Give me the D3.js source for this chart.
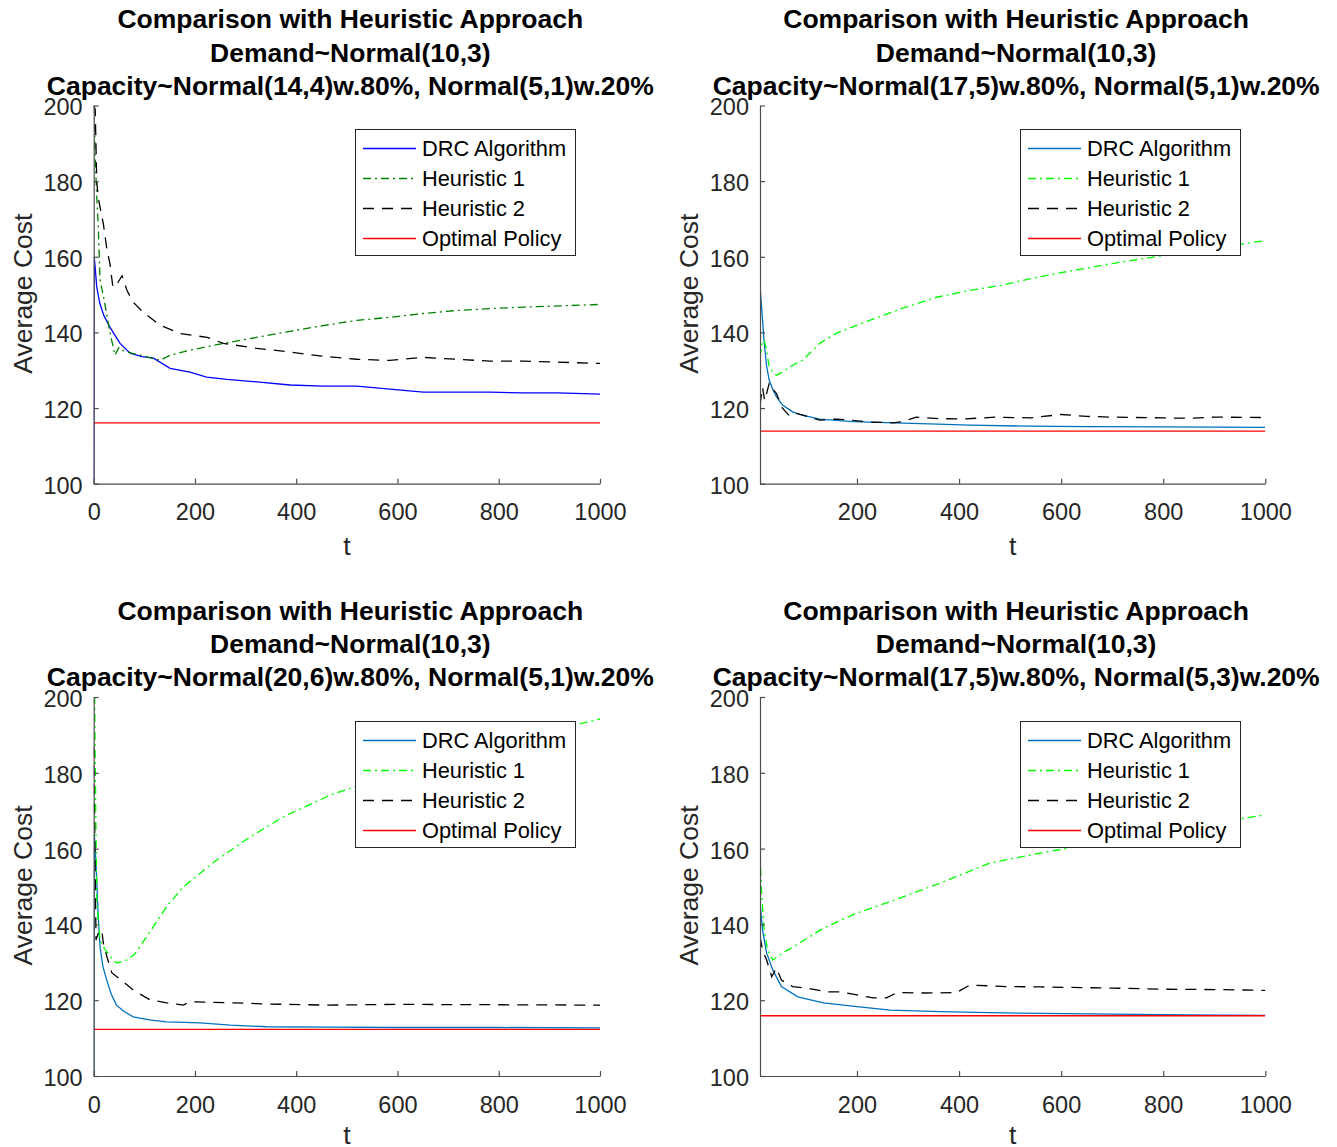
<!DOCTYPE html>
<html lang="en">
<head>
<meta charset="UTF-8">
<title>Comparison with Heuristic Approach</title>
<script src="https://d3js.org/d3.v7.min.js"></script>
<style>
    body { margin: 0; background: #fff; }
    svg { display: block; font-family: "Liberation Sans", Arial, sans-serif; }
</style>
</head>
<body>
<script>

// ---- data: [t, average cost] ----
var yTicks = [100, 120, 140, 160, 180, 200];
var xTicksFull = [0, 200, 400, 600, 800, 1000];
var xTicksShort = [200, 400, 600, 800, 1000];
var seriesNames = ["DRC Algorithm", "Heuristic 1", "Heuristic 2", "Optimal Policy"];

var titleLine1 = "Comparison with Heuristic Approach";
var titleLine2 = "Demand~Normal(10,3)";
var capacityTitles = [
    "Capacity~Normal(14,4)w.80%, Normal(5,1)w.20%",
    "Capacity~Normal(17,5)w.80%, Normal(5,1)w.20%",
    "Capacity~Normal(20,6)w.80%, Normal(5,1)w.20%",
    "Capacity~Normal(17,5)w.80%, Normal(5,3)w.20%"
];

// top left
var tlDrc = [[0,100],[1,160],[3,157],[6,152],[12,147.7],[20,144.5],[32,141.4],[52,137.1],[72,134.5],[95,133.6],[118,133.2],[151,130.5],[190,129.5],[223,128.2],[263,127.6],[322,126.9],[388,126.1],[453,125.8],[520,125.8],[585,125],[651,124.2],[717,124.2],[783,124.2],[849,124],[916,124],[1000,123.7]];
var tlH1 = [[0,200],[1,198],[3,186],[6,176],[9,168],[12.5,154],[20,149],[32,140],[42,134],[50,136],[58,135.2],[75,134.5],[92,134],[131,132.6],[151,134],[190,135.3],[256,137.1],[322,138.7],[388,140.3],[453,141.8],[520,143.2],[585,144],[651,145],[717,145.8],[783,146.3],[849,146.7],[920,147],[1000,147.4]];
var tlH2 = [[0,200],[3,199],[6,180],[9,175.7],[14,172],[19,168.8],[26,162],[32,158.2],[38,151.9],[47,153],[56,155],[66,151],[78,148],[98,145.3],[131,141.9],[171,139.7],[224,138.7],[256,137.1],[322,135.8],[388,134.8],[453,133.7],[520,132.9],[585,132.6],[651,133.4],[717,132.9],[783,132.4],[849,132.4],[1000,131.8]];
var tlOpt = [[0,116.1],[1000,116.1]];

// top right
var trDrc = [[10,152.4],[14,145],[18.4,137],[23,131],[28,127.4],[35,125],[42,123],[54,120.8],[74,119],[93,118.1],[127,117.1],[191,116.4],[290,116],[342,115.8],[421,115.5],[538,115.2],[650,115.1],[800,115],[1000,114.9]];
var trH1 = [[10,133.5],[14,137],[18,137.9],[22,136],[28,130.9],[35,129.5],[42,128.7],[55,129.5],[68,130.9],[94,132.7],[127,137.1],[160,139.8],[225,143.2],[290,146.4],[356,149.3],[421,151.1],[480,152.4],[550,154.5],[600,155.8],[650,157],[700,158.2],[750,159.3],[800,160.3],[850,161.3],[900,162.3],[950,163.3],[1000,164.3]];
var trH2 = [[10,120.8],[15,125.5],[19,122],[23,123.9],[28,126.5],[35,125],[42,123.9],[54,120],[68,117.9],[80,118.6],[94,118.1],[127,116.8],[160,117.1],[225,116.3],[270,116.1],[290,116.4],[316,117.6],[360,117.2],[407,117.1],[473,117.6],[540,117.4],[600,118.3],[650,117.8],[700,117.6],[800,117.4],[850,117.3],[900,117.6],[1000,117.5]];
var trOpt = [[10,113.9],[1000,113.9]];

// bottom left
var blDrc = [[0,100],[1,164],[3,160],[6,151.7],[9,142],[12.5,134.1],[18,129],[25.7,125.3],[35,121.5],[45,118.7],[60,117],[78,115.6],[110,114.8],[144,114.3],[210,114],[270,113.4],[342,113],[467,112.9],[600,112.8],[800,112.8],[1000,112.7]];
var blH1 = [[0,200],[2,200],[4,170],[6,147.3],[9,141],[12.5,135.9],[19,134.1],[32,131.5],[45,129.8],[65,130.6],[80,132],[91,134.1],[118,139.4],[144,144.7],[177,149.9],[243,157],[309,163.1],[375,168.4],[467,174.1],[520,176.5],[600,180],[700,184],[800,187.7],[900,191],[1000,194.2]];
var blH2 = [[0,187],[2,165],[4.6,135.9],[9,137.7],[16,138.5],[19,135.1],[26,131.5],[36,127.2],[58,124.9],[78,122.7],[111,120.1],[144,119.3],[177,118.7],[190,119.6],[276,119.3],[342,119],[461,118.7],[600,118.9],[800,118.8],[1000,118.7]];
var blOpt = [[0,112.3],[1000,112.3]];

// bottom right
var brDrc = [[10,145.6],[15,138.5],[23,132.4],[35,128],[52,123.6],[84,120.9],[134,119.3],[200,118.3],[265,117.4],[363,117],[461,116.7],[559,116.5],[700,116.3],[850,116.1],[1000,116]];
var brH1 = [[10,159.6],[12.5,150],[18,138.5],[25,133.2],[35,130.6],[54,132.4],[88,135.1],[134,139],[200,143],[265,146],[363,150.9],[461,156.2],[559,158.8],[600,159.8],[700,162.3],[800,164.6],[900,166.8],[1000,168.9]];
var brH2 = [[10,136.8],[15,133.2],[23,130.6],[33,126.2],[42,128.5],[52,125.3],[74,123.6],[101,123.2],[140,122.2],[166,122.2],[200,121.4],[232,120.6],[258,120.6],[278,122],[330,121.9],[395,122],[421,124],[493,123.6],[559,123.5],[700,123.2],[800,122.9],[900,122.8],[1000,122.6]];
var brOpt = [[10,115.9],[1000,115.9]];

var width = 1337;
var height = 1147;

var svg = d3.select("body").append("svg")
    .attr("width", width)
    .attr("height", height);

// panel layout
var panels = [
    { left: 93.7, right: 600, top: 105.5, bottom: 483.7, xMin: 0, xTicks: xTicksFull, sub: capacityTitles[0],
      series: [tlDrc, tlH1, tlH2, tlOpt], colors: ["#0000ff", "#008000", "#000000", "#ff0000"] },
    { left: 760, right: 1265.3, top: 105.5, bottom: 483.7, xMin: 10, xTicks: xTicksShort, sub: capacityTitles[1],
      series: [trDrc, trH1, trH2, trOpt], colors: ["#0072bd", "#00ff00", "#000000", "#ff0000"] },
    { left: 93.7, right: 600, top: 697, bottom: 1076, xMin: 0, xTicks: xTicksFull, sub: capacityTitles[2],
      series: [blDrc, blH1, blH2, blOpt], colors: ["#0072bd", "#00ff00", "#000000", "#ff0000"] },
    { left: 760, right: 1265.3, top: 697, bottom: 1076, xMin: 10, xTicks: xTicksShort, sub: capacityTitles[3],
      series: [brDrc, brH1, brH2, brOpt], colors: ["#0072bd", "#00ff00", "#000000", "#ff0000"] }
];

var dashes = ["none", "8,4,2,4", "11,8", "none"];

panels.forEach(function (p, k) {
    var x = d3.scaleLinear().domain([p.xMin, 1000]).range([p.left, p.right]);
    var y = d3.scaleLinear().domain([100, 200]).range([p.bottom, p.top]);

    var g = svg.append("g");

    g.append("clipPath").attr("id", "clip" + k)
        .append("rect")
        .attr("x", p.left).attr("y", p.top)
        .attr("width", p.right - p.left).attr("height", p.bottom - p.top);

    var line = d3.line()
        .x(function (d) { return x(d[0]); })
        .y(function (d) { return y(d[1]); });

    var lines = g.append("g").attr("clip-path", "url(#clip" + k + ")");
    p.series.forEach(function (s, i) {
        lines.append("path")
            .datum(s)
            .attr("d", line)
            .style("fill", "none")
            .style("stroke", p.colors[i])
            .style("stroke-width", 1.3)
            .style("stroke-dasharray", dashes[i]);
    });

    // axes, ticks inward like the original
    var xAxis = g.append("g")
        .attr("transform", "translate(0," + p.bottom + ")")
        .call(d3.axisBottom(x).tickValues(p.xTicks).tickFormat(d3.format("d"))
            .tickSizeInner(-5).tickSizeOuter(0).tickPadding(20));
    var yAxis = g.append("g")
        .attr("transform", "translate(" + p.left + ",0)")
        .call(d3.axisLeft(y).tickValues(yTicks).tickFormat(d3.format("d"))
            .tickSizeInner(-5).tickSizeOuter(0).tickPadding(11));

    [xAxis, yAxis].forEach(function (a) {
        a.select(".domain").attr("stroke", "#4d4d4d").attr("stroke-width", 1.2);
        a.selectAll(".tick line").attr("stroke", "#4d4d4d").attr("stroke-width", 1.2);
        a.selectAll(".tick text")
            .attr("fill", "#262626")
            .style("font-size", "23.5px")
            .style("font-family", "'Liberation Sans', Arial, sans-serif");
    });
    yAxis.selectAll(".tick text").attr("dy", "0.4em");

    // axis labels
    var cx = (p.left + p.right) / 2;
    g.append("text")
        .attr("x", cx)
        .attr("y", Math.min(p.bottom + 71, height - 3))
        .attr("text-anchor", "middle")
        .attr("fill", "#262626")
        .style("font-size", "26.5px")
        .text("t");

    g.append("text")
        .attr("transform", "translate(" + (p.left - 62) + "," + ((p.top + p.bottom) / 2 - 1) + ") rotate(-90)")
        .attr("text-anchor", "middle")
        .attr("fill", "#262626")
        .style("font-size", "26.5px")
        .text("Average Cost");

    // title, three lines
    var titles = [titleLine1, titleLine2, p.sub];
    titles.forEach(function (t, i) {
        g.append("text")
            .attr("x", cx + 3.5)
            .attr("y", p.top - 77.2 + i * 33.3)
            .attr("text-anchor", "middle")
            .attr("fill", "#000")
            .style("font-size", "26.5px")
            .style("font-weight", "bold")
            .text(t);
    });

    // legend
    var lx = Math.round(p.right - 245);
    var ly = Math.round(p.top + 23.5);
    var legend = g.append("g");
    legend.append("rect")
        .attr("x", lx + 0.5).attr("y", ly + 0.5)
        .attr("width", 220).attr("height", 126)
        .style("fill", "#fff")
        .style("stroke", "#262626")
        .style("stroke-width", 1);

    seriesNames.forEach(function (name, i) {
        var ry = ly + 19.5 + i * 30;
        legend.append("path")
            .attr("d", "M" + (lx + 8) + "," + ry + "H" + (lx + 61))
            .style("fill", "none")
            .style("stroke", p.colors[i])
            .style("stroke-width", 1.3)
            .style("stroke-dasharray", dashes[i]);
        legend.append("text")
            .attr("x", lx + 67)
            .attr("y", ry + 7.5)
            .attr("fill", "#000")
            .style("font-size", "21.8px")
            .text(name);
    });
});

</script>
</body>
</html>
